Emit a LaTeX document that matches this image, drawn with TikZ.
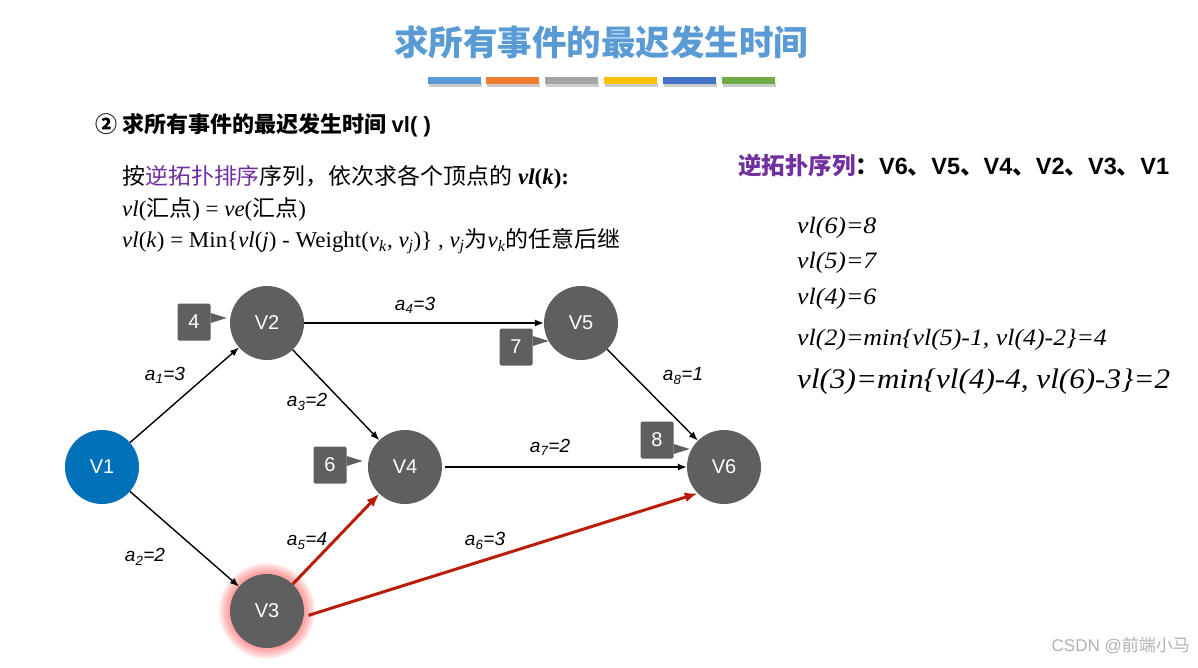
\documentclass[tikz,border=0pt]{standalone}
\usepackage{fontspec}
\setmainfont{Liberation Serif}
\setsansfont{Liberation Sans}
\newfontfamily\cjk{Noto Sans CJK SC}
\usetikzlibrary{arrows.meta,calc}
\definecolor{titleblue}{HTML}{5B9BD5}
\definecolor{barA}{HTML}{5B9BD5}
\definecolor{barB}{HTML}{ED7D31}
\definecolor{barC}{HTML}{A5A5A5}
\definecolor{barD}{HTML}{FFC000}
\definecolor{barE}{HTML}{4472C4}
\definecolor{barF}{HTML}{70AD47}
\definecolor{nodegray}{HTML}{5F5F5F}
\definecolor{vblue}{HTML}{0070B8}
\definecolor{purp}{HTML}{7030A0}
\definecolor{critred}{HTML}{B81E0A}
\newcommand{\zh}[1]{{\cjk #1}}
\tikzset{
  vert/.style={circle, fill=nodegray, minimum size=74pt, inner sep=0pt, text=white, font=\sffamily\fontsize{20}{22}\selectfont},
  tagbox/.style={rectangle, rounded corners=1.5pt, fill=nodegray, minimum width=33pt, minimum height=37pt, inner sep=0pt, text=white, font=\sffamily\fontsize{20}{22}\selectfont},
  edge/.style={line width=1.4pt, -{Latex[length=9pt,width=7pt]}},
  critedge/.style={line width=3pt, critred, -{Latex[length=13pt,width=10pt]}},
  elabel/.style={font=\sffamily\itshape\fontsize{19}{21}\selectfont, inner sep=0pt},
  bar/.style={minimum width=53pt, minimum height=7pt, inner sep=0pt},
  txt/.style={anchor=west, inner sep=0pt, font=\fontsize{22.5}{26}\selectfont, xscale=1.02},
  vltxt/.style={anchor=west, inner sep=0pt, font=\itshape\fontsize{23.5}{27}\selectfont, xscale=1.1},
}
\newcommand{\tagmark}[5]{%
  \node[tagbox] (#1) at (#2,#3) {#4};
  \fill[nodegray] ($(#1.east)+(0,#5-5)$) -- ($(#1.east)+(16,#5)$) -- ($(#1.east)+(0,#5+5)$) -- cycle;}
\begin{document}
\begin{tikzpicture}[x=1pt,y=-1pt]
\useasboundingbox[fill=white] (0,0) rectangle (1198,667);
% title
\node[font=\cjk\bfseries\fontsize{34.5}{38}\selectfont, text=titleblue, inner sep=0pt] (title) at (601,42) {求所有事件的最迟发生时间};
\foreach \c/\x [count=\i] in {barA/454,barB/512,barC/571,barD/630,barE/689,barF/748}{
  \fill[black!20] (\x-26.5+1.5,80.5+2.5) rectangle (\x+26.5+1.5,84+3);
  \node[bar, fill=\c] (bar\i) at (\x,80.5) {};
}
% heading
\node[anchor=west, inner sep=0pt, font=\bfseries\fontsize{22}{25}\selectfont] (head) at (95,125) {\zh{② 求所有事件的最迟发生时间} \sffamily vl( )};
% body text
\node[txt] (line1) at (122,177) {\zh{按}\textcolor{purp}{\zh{逆拓扑排序}}\zh{序列，依次求各个顶点的} \textbf{\textit{vl}(\textit{k}):}};
\node[txt] (line2) at (122,209) {\textit{vl}(\zh{汇点}) = \textit{ve}(\zh{汇点})};
\node[txt] (line3) at (122,241) {\textit{vl}(\textit{k}) = Min\{\textit{vl}(\textit{j}) - Weight(\textit{v}\textsubscript{\textit{k}}, \textit{v}\textsubscript{\textit{j}})\} , \textit{v}\textsubscript{\textit{j}}\zh{为}\textit{v}\textsubscript{\textit{k}}\zh{的任意后继}};
% right side
\node[anchor=west, inner sep=0pt, font=\bfseries\fontsize{23.5}{27}\selectfont] (order) at (738,166) {\textcolor{purp}{\zh{逆拓扑序列}}\zh{：}\sffamily V6\zh{、}V5\zh{、}V4\zh{、}V2\zh{、}V3\zh{、}V1};
\node[vltxt] (vl6) at (797,228) {vl(6)=8};
\node[vltxt] (vl5) at (797,263) {vl(5)=7};
\node[vltxt] (vl4) at (797,299) {vl(4)=6};
\node[vltxt] (vl2) at (797,340) {vl(2)=min\{vl(5)-1, vl(4)-2\}=4};
\node[vltxt, font=\itshape\fontsize{28.3}{32}\selectfont] (vl3) at (797,382) {vl(3)=min\{vl(4)-4, vl(6)-3\}=2};
% glow for V3
\foreach \r in {48,46.5,...,38}{
  \fill[red!80, opacity=0.08] (267,611) circle (\r);
}
% vertices
\node[vert, fill=vblue] (V1) at (102,467) {V1};
\node[vert] (V2) at (267,323) {V2};
\node[vert] (V5) at (581,323) {V5};
\node[vert] (V4) at (405,467) {V4};
\node[vert] (V6) at (724,467) {V6};
\node[vert] (V3) at (267,611) {V3};
% tags
\tagmark{t2}{194}{322}{4}{-4}
\tagmark{t5}{516}{347}{7}{-6}
\tagmark{t4}{330}{465}{6}{-4}
\tagmark{t6}{657}{440}{8}{9}
% edges
\draw[edge] (V1) -- (V2);
\draw[edge] (V1) -- (V3);
\draw[edge] (V2) -- (V4);
\draw[edge] (V2) -- (V5);
\draw[edge, shorten <=3pt] (V4) -- (V6);
\draw[edge] (V5) -- (V6);
\draw[critedge] (V3) -- (V4);
\draw[critedge, shorten <=5pt] (V3.-9) -- (V6.225);
% edge labels
\node[elabel] (l1) at (165,375) {a\textsubscript{1}=3};
\node[elabel] (l2) at (145,557) {a\textsubscript{2}=2};
\node[elabel] (l3) at (307,402) {a\textsubscript{3}=2};
\node[elabel] (l4) at (415,305) {a\textsubscript{4}=3};
\node[elabel] (l5) at (307,541) {a\textsubscript{5}=4};
\node[elabel] (l6) at (485,541) {a\textsubscript{6}=3};
\node[elabel] (l7) at (550,447) {a\textsubscript{7}=2};
\node[elabel] (l8) at (683,376) {a\textsubscript{8}=1};
% watermark
\node[anchor=east, inner sep=0pt, text=black!30, font=\sffamily\fontsize{17}{20}\selectfont] (wm) at (1190,645) {CSDN @\zh{前端小马}};
\end{tikzpicture}
\end{document}
